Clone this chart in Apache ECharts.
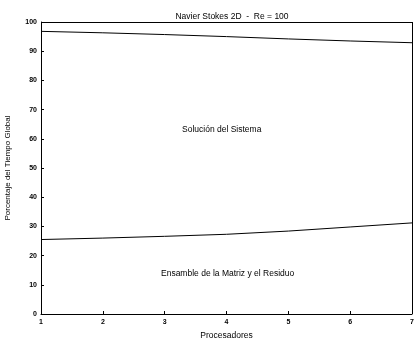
<!DOCTYPE html>
<html>
<head>
    <meta charset="utf-8">
    <title>Navier Stokes 2D</title>
    <script src="https://cdn.jsdelivr.net/npm/echarts@6/dist/echarts.min.js"></script>
</head>
<body style="margin:0;background:#fff">
    <div id="main" style="width:415px;height:338px;"></div>
    <script type="text/javascript">
var procesadores = [1, 2, 3, 4, 5, 6, 7];
var solucion = [96.8, 96.3, 95.7, 95.0, 94.2, 93.5, 92.9];
var ensamble = [25.5, 26.0, 26.6, 27.3, 28.4, 29.8, 31.2];
var yTicks = [0, 10, 20, 30, 40, 50, 60, 70, 80, 90, 100];

var font = 'Liberation Sans, Arial, sans-serif';

function pares(vals) {
    return procesadores.map(function (p, i) { return [p, vals[i]]; });
}

var myChart = echarts.init(document.getElementById('main'));

var option = {
    backgroundColor: '#ffffff',
    animation: false,
    title: {
        text: 'Navier Stokes 2D  -  Re = 100',
        left: 227, textAlign: 'center',
        top: 7,
        textStyle: { color: '#000', fontSize: 8.5, fontWeight: 'normal', fontFamily: font }
    },
    grid: { left: 41, right: 3, top: 22, bottom: 24, containLabel: false, outerBoundsMode: 'none' },
    xAxis: {
        type: 'value',
        min: 1, max: 7, interval: 1,
        name: 'Procesadores',
        nameLocation: 'middle',
        nameGap: 15,
        nameTextStyle: { color: '#000', fontSize: 8.5, fontFamily: font },
        axisLine: { lineStyle: { color: '#000', width: 1 } },
        axisTick: { show: true, inside: true, length: 3, lineStyle: { color: '#000' } },
        axisLabel: { color: '#000', fontSize: 7, margin: 5, fontFamily: font, fontWeight: 'bold' },
        splitLine: { show: false }
    },
    yAxis: {
        type: 'value',
        min: 0, max: 100, interval: 10,
        name: 'Porcentaje del Tiempo Global',
        nameLocation: 'middle',
        nameGap: 29,
        nameTextStyle: { color: '#000', fontSize: 8, fontFamily: font },
        axisLine: { lineStyle: { color: '#000', width: 1 } },
        axisTick: { show: true, inside: true, length: 3, lineStyle: { color: '#000' } },
        axisLabel: {
            color: '#000', fontSize: 7, margin: 4, fontFamily: font, fontWeight: 'bold',
            formatter: function (v) { return yTicks.indexOf(v) >= 0 ? String(v) : ''; }
        },
        splitLine: { show: false }
    },
    series: [{
        type: 'line',
        data: pares(solucion),
        symbol: 'none',
        lineStyle: { color: '#000', width: 1 },
        markLine: {
            silent: true, symbol: 'none', label: { show: false },
            lineStyle: { color: '#000', width: 1, type: 'solid' },
            data: [{ yAxis: 100 }, { xAxis: 7 }]
        }
    }, {
        type: 'line',
        data: pares(ensamble),
        symbol: 'none',
        lineStyle: { color: '#000', width: 1 }
    }],
    graphic: [{
        type: 'text', left: 182, top: 125,
        style: { text: 'Solución del Sistema', fill: '#000', font: '8.5px ' + font }
    }, {
        type: 'text', left: 161, top: 269,
        style: { text: 'Ensamble de la Matriz y el Residuo', fill: '#000', font: '8.5px ' + font }
    }]
};
myChart.setOption(option);
    </script>
</body>
</html>
